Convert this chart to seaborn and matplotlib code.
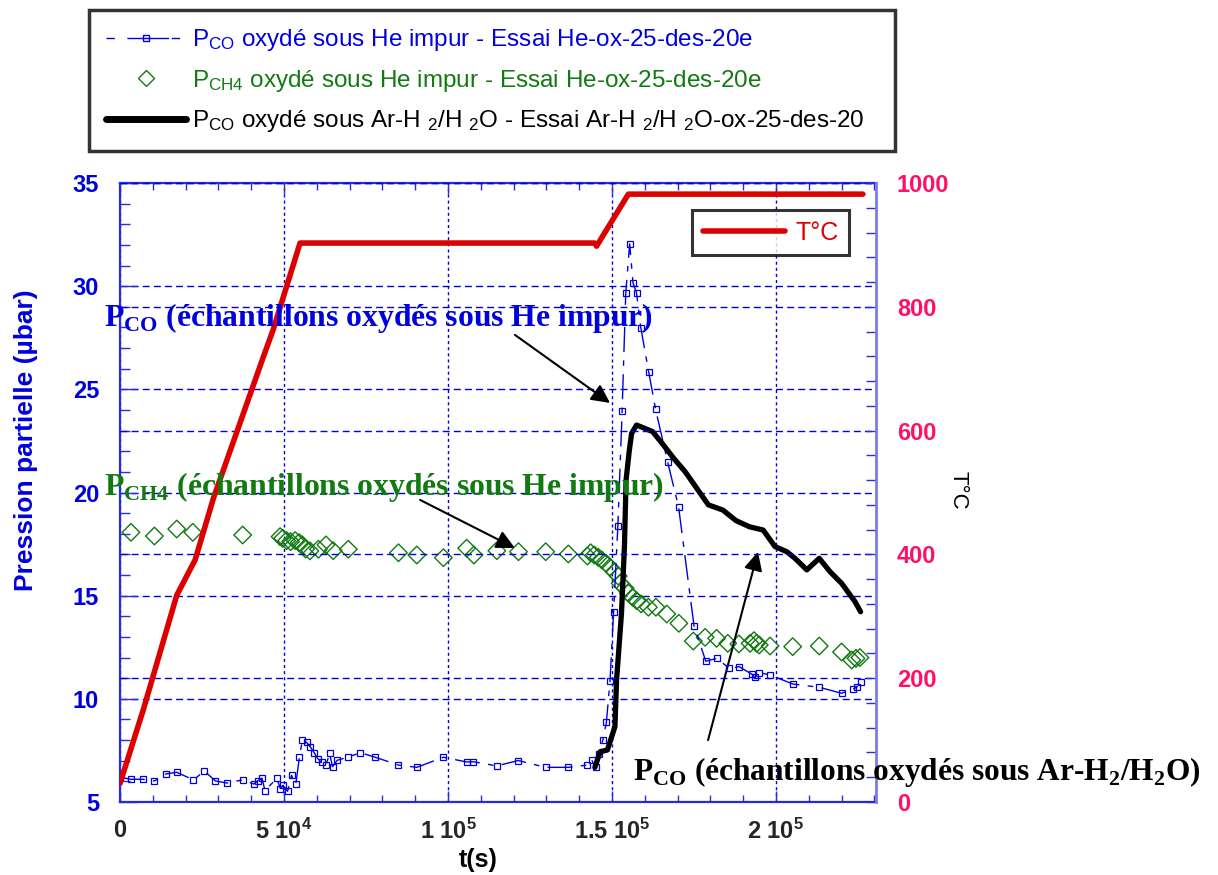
import matplotlib
matplotlib.use("Agg")
import matplotlib.pyplot as plt
import seaborn as sns
import pandas as pd
from matplotlib.ticker import MultipleLocator
from matplotlib.lines import Line2D

# ---------------- data ----------------
# Temperature programme (°C) vs time (s)
t_temp = [0, 7100, 17300, 22900, 28500, 43700, 46700, 54900, 144700, 145300, 155000, 226500]
temp = [30, 149, 334, 391, 491, 719, 763, 903, 903, 898, 982, 982]

# P_CO, samples oxidised under impure He (µbar)
t_co_he = [0, 3350, 6900, 10500, 14000, 17300, 22400, 25700, 29100, 32600, 37400, 40800,
           42000, 43300, 44200, 47800, 48900, 49700, 51100, 52300, 53600, 54700, 55600,
           56900, 58000, 59200, 60300, 61500, 62800, 63900, 64800, 66200, 69600, 73300,
           77800, 84900, 90500, 98600, 105700, 107700, 114900, 121400, 129800, 136700,
           142500, 143800, 145000, 146000, 147200, 148300, 149400, 150500, 151800, 153100,
           154200, 155400, 156400, 157500, 158800, 161200, 163300, 167000, 170300, 175000,
           178600, 181900, 185800, 188800, 192600, 193600, 194800, 198200, 205100, 213200,
           220000, 223400, 224600, 225800]
p_co_he = [6.2, 6.10, 6.10, 6.02, 6.36, 6.44, 6.07, 6.50, 6.02, 5.92, 6.07, 5.87,
           6.03, 6.15, 5.55, 6.15, 5.65, 5.81, 5.52, 6.29, 5.86, 7.17, 8.00,
           7.89, 7.68, 7.39, 7.10, 6.92, 6.78, 7.36, 6.71, 7.02, 7.18, 7.39,
           7.17, 6.79, 6.68, 7.17, 6.94, 6.95, 6.75, 7.01, 6.68, 6.68,
           6.79, 7.04, 6.68, 7.33, 7.99, 8.86, 10.87, 14.22, 18.39, 23.97,
           29.66, 32.05, 30.17, 29.66, 27.98, 25.84, 24.03, 21.46, 19.31, 13.55,
           11.82, 11.96, 11.48, 11.56, 11.20, 11.04, 11.27, 11.16, 10.72, 10.56,
           10.27, 10.46, 10.56, 10.83]

# P_CH4, samples oxidised under impure He (µbar)
t_ch4 = [3350, 10500, 17300, 22200, 37400, 48800, 49600, 50800, 52000, 53400, 54600,
         55600, 56600, 57900, 60500, 62800, 65000, 69600, 84900, 90500, 98600, 105700,
         107900, 114900, 121500, 129800, 136700, 142500, 143500, 144600, 145800, 146900,
         148200, 149400, 150700, 151900, 152500, 154000, 155000, 156300, 157500, 158900,
         161100, 163400, 166700, 170400, 174800, 178400, 181900, 185300, 188700, 192100,
         193300, 194100, 194900, 198200, 205100, 213200, 220000, 223100, 224400, 225600]
p_ch4 = [18.07, 17.89, 18.23, 18.07, 17.94, 17.86, 17.78, 17.67, 17.62, 17.67, 17.57,
         17.46, 17.26, 17.17, 17.25, 17.46, 17.18, 17.25, 17.08, 16.97, 16.84, 17.30,
         16.97, 17.18, 17.13, 17.13, 17.02, 16.92, 17.08, 16.97, 16.86, 16.73,
         16.57, 16.38, 16.16, 15.95, 15.60, 15.36, 15.12, 14.92, 14.76, 14.60,
         14.44, 14.44, 14.11, 13.66, 12.80, 12.98, 12.93, 12.69, 12.66, 12.69,
         12.82, 12.69, 12.61, 12.56, 12.53, 12.56, 12.27, 11.88, 11.96, 12.00]

# P_CO, samples oxidised under Ar-H2/H2O (µbar)
t_co_ar = [144800, 146400, 148600, 150900, 151400, 152900, 153800, 154300, 155300, 156000,
           157500, 162400, 165700, 168800, 172300, 179400, 183800, 187800, 191900, 196100,
           199700, 203300, 205800, 209400, 213200, 216500, 220000, 224100, 225800]
p_co_ar = [6.68, 7.44, 7.52, 8.65, 10.91, 14.15, 17.38, 20.61, 22.06, 22.87,
           23.27, 22.95, 22.30, 21.66, 21.01, 19.40, 19.15, 18.64, 18.34, 18.18,
           17.38, 17.13, 16.81, 16.25, 16.81, 16.16, 15.60, 14.71, 14.22]

x_ticks = [0, 50000, 100000, 150000, 200000]
x_tick_labels = ["0", r"5 10$^{\mathbf{4}}$", r"1 10$^{\mathbf{5}}$",
                 r"1.5 10$^{\mathbf{5}}$", r"2 10$^{\mathbf{5}}$"]
p_ticks = [5, 10, 15, 20, 25, 30, 35]
t_ticks = [0, 200, 400, 600, 800, 1000]

legend_labels = [
    r"P$_{\mathsf{CO}}$ oxydé sous He impur - Essai He-ox-25-des-20e",
    r"P$_{\mathsf{CH4}}$ oxydé sous He impur - Essai He-ox-25-des-20e",
    r"P$_{\mathsf{CO}}$ oxydé sous Ar-H $_{\mathsf{2}}$/H $_{\mathsf{2}}$O - Essai Ar-H $_{\mathsf{2}}$/H $_{\mathsf{2}}$O-ox-25-des-20",
]

# ---------------- style ----------------
sns.set_theme(style="white")
plt.rcParams["font.family"] = ["Liberation Sans", "DejaVu Sans"]
plt.rcParams["mathtext.fontset"] = "custom"
plt.rcParams["mathtext.rm"] = "Liberation Serif:bold"
plt.rcParams["mathtext.sf"] = "Liberation Sans"
plt.rcParams["mathtext.bf"] = "Liberation Sans:bold"
plt.rcParams["mathtext.it"] = "Liberation Sans:italic"

BLUE = "#0000dd"
GREEN = "#117a11"
RED = "#dd0000"
PINK = "#ff1066"
SPINE_BLUE = "#2a2ae0"
RIGHT_BLUE = "#7a7aee"

W, H = 1218, 875
fig = plt.figure(figsize=(W / 100, H / 100), dpi=100)
ax = fig.add_axes([120 / W, 1 - 802 / H, 756 / W, 619 / H])
ax2 = ax.twinx()

df_co_he = pd.DataFrame({"t": t_co_he, "p": p_co_he})
df_ch4 = pd.DataFrame({"t": t_ch4, "p": p_ch4})
df_co_ar = pd.DataFrame({"t": t_co_ar, "p": p_co_ar})
df_temp = pd.DataFrame({"t": t_temp, "T": temp})

# pressure series on the left axis
sns.lineplot(data=df_co_he, x="t", y="p", ax=ax, color=BLUE, lw=1.0, sort=False,
             estimator=None, marker="s", markersize=4, markerfacecolor="none",
             markeredgecolor=BLUE, markeredgewidth=0.9, zorder=4)
ax.lines[-1].set_dashes((18, 6, 4, 6))
sns.scatterplot(data=df_ch4, x="t", y="p", ax=ax, marker="D", s=80,
                facecolor="none", edgecolor=GREEN, linewidth=1.0, zorder=3)
sns.lineplot(data=df_co_ar, x="t", y="p", ax=ax, color="black", lw=3.8, sort=False,
             estimator=None, zorder=5)

# temperature on the right axis
sns.lineplot(data=df_temp, x="t", y="T", ax=ax2, color=RED, lw=4.0, sort=False,
             estimator=None, label="T°C")

ax.set_xlim(0, 230500)
ax.set_ylim(5, 35)
ax2.set_ylim(0, 1000)

ax.set_xticks(x_ticks)
ax.set_xticklabels(x_tick_labels)
ax.set_yticks(p_ticks)
ax2.set_yticks(t_ticks)
ax.xaxis.set_minor_locator(MultipleLocator(10000))
ax.yaxis.set_minor_locator(MultipleLocator(1))
ax2.yaxis.set_minor_locator(MultipleLocator(40))

ax.tick_params(axis="x", which="both", direction="in", top=True, bottom=True,
               color=SPINE_BLUE, labelsize=17, pad=12)
ax.tick_params(axis="x", which="major", length=8, width=1)
ax.tick_params(axis="x", which="minor", length=5, width=1)
ax.tick_params(axis="y", which="both", direction="in", left=True, right=False,
               color=SPINE_BLUE, labelsize=17, labelcolor=BLUE, pad=15)
ax.tick_params(axis="y", which="major", length=12, width=1)
ax.tick_params(axis="y", which="minor", length=7, width=1)
ax2.tick_params(axis="y", which="both", direction="in", right=True, left=False,
                color=SPINE_BLUE, labelsize=17, labelcolor=PINK, pad=15)
ax2.tick_params(axis="y", which="major", length=7, width=1)
ax2.tick_params(axis="y", which="minor", length=7, width=1)
for lab in ax.get_xticklabels() + ax.get_yticklabels() + ax2.get_yticklabels():
    lab.set_fontweight("bold")

# grids
ax.grid(True, axis="x", color=BLUE, lw=1.0, linestyle=(0, (2.2, 2.2)))
ax.grid(True, axis="y", color=BLUE, lw=1.0, linestyle=(0, (5, 3)))
ax2.grid(True, axis="y", color=BLUE, lw=1.0, linestyle=(0, (5, 3)))
ax.set_axisbelow(True)

for side in ["left", "bottom", "top"]:
    ax.spines[side].set_color(SPINE_BLUE)
    ax.spines[side].set_linewidth(1.6)
for side in ["left", "bottom", "top"]:
    ax2.spines[side].set_visible(False)
ax2.spines["right"].set_color(RIGHT_BLUE)
ax2.spines["right"].set_linewidth(2.0)
ax.spines["right"].set_visible(False)

ax.set_xlabel("t(s)", fontsize=18, fontweight="bold", color="black")
ax.xaxis.set_label_coords(0.474, -0.075)
ax.set_ylabel("Pression partielle (µbar)", fontsize=19, fontweight="bold", color=BLUE)
ax.yaxis.set_label_coords(-0.109, 0.585)
ax2.set_ylabel("T°C", fontsize=16, color="black", rotation=-90, va="bottom")
ax2.yaxis.set_label_coords(1.095, 0.504)

# temperature legend
leg2 = ax2.legend(loc="upper left", bbox_to_anchor=(692 / W, 1 - 210 / H),
                  bbox_transform=fig.transFigure, frameon=True, fancybox=False,
                  fontsize=18, labelcolor=RED, handlelength=3.3, borderpad=0.42,
                  handletextpad=0.4, borderaxespad=0)
leg2.get_frame().set_edgecolor("black")
leg2.get_frame().set_linewidth(2.2)

# series legend above the plot
handles = [
    Line2D([0, 0.5, 1], [0, 0, 0], color=BLUE, lw=1.0, dashes=(6, 9, 30, 2), marker="s",
           markersize=4, markerfacecolor="none", markeredgecolor=BLUE, markevery=[1]),
    Line2D([], [], color=GREEN, ls="none", marker="D", markersize=8,
           markerfacecolor="none", markeredgecolor=GREEN),
    Line2D([], [], color="black", lw=5),
]
leg = fig.legend(handles, legend_labels, loc="upper left",
                 bbox_to_anchor=(89 / W, 1 - 148 / H, 806 / W, 138 / H), mode="expand",
                 frameon=True, fancybox=False, fontsize=17.5, handlelength=3.3,
                 handletextpad=0.25, labelspacing=0.6, borderpad=0.7,
                 labelcolor=[BLUE, GREEN, "black"], borderaxespad=0)
leg.get_frame().set_edgecolor("black")
leg.get_frame().set_linewidth(2.5)

# annotations
def fx(px):
    return px / W


def fy(py):
    return 1 - py / H


fig.text(fx(104), fy(318), r"P$_{\mathrm{CO}}$ (échantillons oxydés sous He impur)",
         color=BLUE, fontsize=22.8, fontweight="bold", family="Liberation Serif",
         va="center", ha="left")
fig.text(fx(104), fy(487), r"P$_{\mathrm{CH4}}$ (échantillons oxydés sous He impur)",
         color=GREEN, fontsize=22.8, fontweight="bold", family="Liberation Serif",
         va="center", ha="left")
fig.text(fx(633), fy(772), r"P$_{\mathrm{CO}}$ (échantillons oxydés sous Ar-H$_{\mathrm{2}}$/H$_{\mathrm{2}}$O)",
         color="black", fontsize=22.6, fontweight="bold", family="Liberation Serif",
         va="center", ha="left")

arrow = dict(arrowstyle="-|>", color="black", lw=1.5, mutation_scale=28,
             shrinkA=0, shrinkB=0)
ax.annotate("", xy=(149400, 24.34), xytext=(120400, 27.64), arrowprops=arrow)
ax.annotate("", xy=(120400, 17.31), xytext=(91500, 19.64), arrowprops=arrow)
ax.annotate("", xy=(194500, 17.12), xytext=(179300, 8.0), arrowprops=arrow)

fig.savefig("out.png", dpi=100)
